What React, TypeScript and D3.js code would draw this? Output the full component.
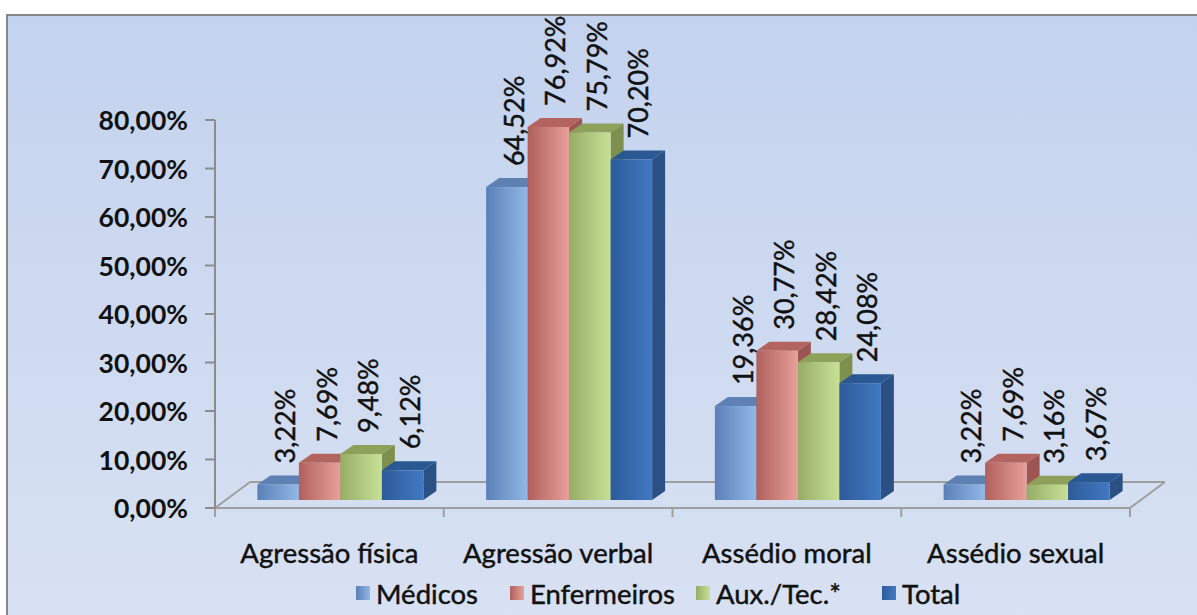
import React from "react";
import * as d3 from "d3";

// Categories, series and values (percent)
const categories = ["Agressão física", "Agressão verbal", "Assédio moral", "Assédio sexual"];
const seriesNames = ["Médicos", "Enfermeiros", "Aux./Tec.*", "Total"];
const medicos = [3.22, 64.52, 19.36, 3.22];
const enfermeiros = [7.69, 76.92, 30.77, 7.69];
const auxTec = [9.48, 75.79, 28.42, 3.16];
const total = [6.12, 70.2, 24.08, 3.67];
const seriesValues = [medicos, enfermeiros, auxTec, total];
const yTicks = [0, 10, 20, 30, 40, 50, 60, 70, 80];

// Bar palettes: front gradient (left -> right), top face, side face
const palettes = [
  { dark: "#5A80B8", light: "#92B8E8", top: "#5E80B2", side: "#4C6E9E" },
  { dark: "#B0605D", light: "#E8A09A", top: "#B4645F", side: "#9C5552" },
  { dark: "#97AD66", light: "#C8E096", top: "#8EA05A", side: "#7E904E" },
  { dark: "#2D5B9A", light: "#4079C2", top: "#2A5892", side: "#2A5084" },
];

const W = 1197;
const H = 615;
const FONT = "Lato, 'Open Sans', sans-serif";

const locale = d3.formatLocale({ decimal: ",", thousands: ".", grouping: [3], currency: ["", ""] });
const fmt = (v: number) => locale.format(".2f")(v) + "%";

export default function App() {
  // axis geometry (front plane)
  const axisX = 215;
  const axisRight = 1130;
  const floorY = 508;
  // floor depth offset
  const depthX = 35;
  const depthY = -26;
  // bars sit inside the floor depth
  const barShiftX = 11;
  const barShiftY = -8;
  const barDX = 13;
  const barDY = -9;

  const yAxis = d3.scaleLinear().domain([0, 80]).range([floorY, floorY - 80 * 4.85]);
  const yBar = (v: number) => yAxis(v) + barShiftY;

  const xCat = d3.scaleBand<string>().domain(categories).range([axisX, axisRight]).padding(0);
  const groupWidth = 166;
  const xSeries = d3.scaleBand<string>().domain(seriesNames).range([0, groupWidth]).padding(0);
  const bw = xSeries.bandwidth();

  const textStroke = { stroke: "#111", strokeWidth: 0.45 };

  const bars: React.ReactNode[] = [];
  const labels: React.ReactNode[] = [];
  categories.forEach((cat, ci) => {
    const cx = (xCat(cat) as number) + xCat.bandwidth() / 2 + barShiftX;
    const gx = cx - groupWidth / 2;
    seriesNames.forEach((s, si) => {
      const v = seriesValues[si][ci];
      const x0 = gx + (xSeries(s) as number);
      const x1 = x0 + bw;
      const yt = yBar(v);
      const yb = yBar(0);
      const p = palettes[si];
      bars.push(
        <g key={`b-${ci}-${si}`}>
          <polygon
            points={`${x1},${yt} ${x1 + barDX},${yt + barDY} ${x1 + barDX},${yb + barDY} ${x1},${yb}`}
            fill={p.side}
          />
          <polygon
            points={`${x0},${yt} ${x0 + barDX},${yt + barDY} ${x1 + barDX},${yt + barDY} ${x1},${yt}`}
            fill={p.top}
          />
          <rect x={x0} y={yt} width={bw} height={yb - yt} fill={`url(#grad-${si})`} />
        </g>
      );
      const lx = (x0 + x1) / 2 + barDX / 2;
      const ly = yt - 21;
      labels.push(
        <text
          key={`l-${ci}-${si}`}
          transform={`translate(${lx},${ly}) rotate(-90)`}
          textAnchor="start"
          dominantBaseline="central"
          fontSize={27}
          fill="#111"
          {...textStroke}
        >
          {fmt(v)}
        </text>
      );
    });
  });

  const legendX = [356, 510, 696, 882];

  return (
    <svg
      width={W}
      height={H}
      style={{ position: "absolute", left: 0, top: 0, fontFamily: FONT }}
    >
      <defs>
        <linearGradient id="bg" x1="0" y1="0" x2="0" y2="1">
          <stop offset="0%" stopColor="#C3D2EE" />
          <stop offset="100%" stopColor="#D9E2F3" />
        </linearGradient>
        {palettes.map((p, i) => (
          <linearGradient key={i} id={`grad-${i}`} x1="0" y1="0" x2="1" y2="0">
            <stop offset="0%" stopColor={p.dark} />
            <stop offset="100%" stopColor={p.light} />
          </linearGradient>
        ))}
      </defs>
      <rect x={0} y={0} width={W} height={H} fill="#fff" />
      <rect x={7} y={15} width={W + 10} height={H + 10} fill="url(#bg)" stroke="#878787" strokeWidth={2} />

      {/* floor */}
      <g stroke="#9E9E9E" strokeWidth={2} fill="none">
        <line x1={axisX} y1={floorY} x2={axisRight} y2={floorY} />
        <line x1={axisX + depthX} y1={floorY + depthY} x2={axisRight + depthX} y2={floorY + depthY} />
        <line x1={axisX} y1={floorY} x2={axisX + depthX} y2={floorY + depthY} />
        <line x1={axisRight} y1={floorY} x2={axisRight + depthX} y2={floorY + depthY} />
        {[...categories.map((c) => xCat(c) as number), axisRight].map((x, i) => (
          <line key={i} x1={x} y1={floorY} x2={x} y2={floorY + 9} />
        ))}
      </g>

      {/* value axis */}
      <g stroke="#8C8C8C" strokeWidth={2}>
        <line x1={axisX} y1={yAxis(80)} x2={axisX} y2={floorY} />
        {yTicks.map((t) => (
          <line key={t} x1={axisX - 10} y1={yAxis(t)} x2={axisX} y2={yAxis(t)} />
        ))}
      </g>
      {yTicks.map((t) => (
        <text
          key={`t-${t}`}
          x={188}
          y={yAxis(t)}
          textAnchor="end"
          dominantBaseline="central"
          fontSize={26.5}
          fontWeight="bold"
          fill="#111"
        >
          {fmt(t)}
        </text>
      ))}

      {bars}
      {labels}

      {categories.map((c) => (
        <text
          key={c}
          x={(xCat(c) as number) + xCat.bandwidth() / 2}
          y={563}
          textAnchor="middle"
          fontSize={27.5}
          fill="#111"
          {...textStroke}
        >
          {c}
        </text>
      ))}

      {seriesNames.map((s, i) => (
        <g key={s}>
          <rect x={legendX[i]} y={586} width={14} height={14} fill={`url(#grad-${i})`} />
          <text x={legendX[i] + 20} y={604} fontSize={27.5} fill="#111" {...textStroke}>
            {s}
          </text>
        </g>
      ))}
    </svg>
  );
}
